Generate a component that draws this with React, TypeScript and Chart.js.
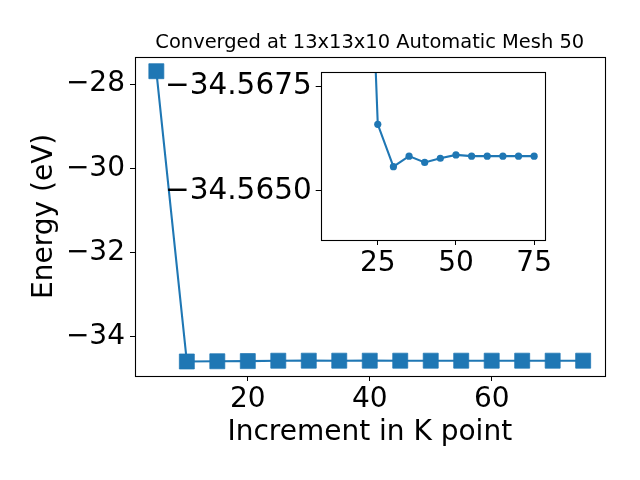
import React, { useEffect, useRef } from "react";
import { Chart, registerables } from "chart.js";

Chart.register(...registerables);

// ---- Data ----
const kPoints = [5, 10, 15, 20, 25, 30, 35, 40, 45, 50, 55, 60, 65, 70, 75];
const energies = [
  -27.695, -34.585, -34.58, -34.5763, -34.56659, -34.56558, -34.56583, -34.56568,
  -34.56578, -34.56586, -34.56583, -34.56583, -34.56583, -34.56583, -34.56583,
];
const insetK = kPoints.slice(1);
const insetEnergies = energies.slice(1);

const mainXTicks = [20, 40, 60];
const mainYTicks = [-34, -32, -30, -28];
const insetXTicks = [25, 50, 75];
const insetYTicks = [-34.5675, -34.565];
const insetYRange = [-34.56783, -34.56383];

const titleText = "Converged at 13x13x10 Automatic Mesh 50";
const xLabel = "Increment in K point";
const yLabel = "Energy (eV)";

const BLUE = "#1f77b4";
const FONT = "'DejaVu Sans', sans-serif";

const fmt = (v: number, d: number) => (v < 0 ? "\u2212" : "") + Math.abs(v).toFixed(d);

function padRange(vals: number[]) {
  const mn = Math.min(...vals);
  const mx = Math.max(...vals);
  const m = (mx - mn) * 0.05;
  return [mn - m, mx + m];
}

const framePlugin = {
  id: "frame",
  beforeDraw(chart: any, _a: any, opts: any) {
    if (opts && opts.fill) {
      const { left, top, width, height } = chart.chartArea;
      const ctx = chart.ctx;
      ctx.save();
      ctx.fillStyle = "#ffffff";
      ctx.fillRect(left, top, width, height);
      ctx.restore();
    }
  },
  afterDraw(chart: any) {
    const { left, top, width, height } = chart.chartArea;
    const ctx = chart.ctx;
    ctx.save();
    ctx.strokeStyle = "#000000";
    ctx.lineWidth = 1.1;
    ctx.strokeRect(Math.round(left) + 0.5, Math.round(top) + 0.5, Math.round(width), Math.round(height));
    ctx.restore();
  },
};

const titlePlugin = {
  id: "axTitle",
  afterDraw(chart: any, _a: any, opts: any) {
    if (!opts || !opts.text) return;
    const { left, right, top } = chart.chartArea;
    const ctx = chart.ctx;
    ctx.save();
    ctx.fillStyle = "#000";
    ctx.font = `19.44px ${FONT}`;
    ctx.textAlign = "center";
    ctx.textBaseline = "alphabetic";
    ctx.fillText(opts.text, (left + right) / 2, top - 8.5);
    ctx.restore();
  },
};

function fixedTicks(arr: number[]) {
  return (scale: any) => {
    scale.ticks = arr.map((v) => ({ value: v }));
  };
}

const tickGrid = {
  display: true,
  drawOnChartArea: false,
  drawTicks: true,
  tickLength: 5,
  color: "#000",
  lineWidth: 1,
};

export default function App() {
  const mainRef = useRef<HTMLCanvasElement>(null);
  const insetRef = useRef<HTMLCanvasElement>(null);

  useEffect(() => {
    document.body.style.margin = "0";
    const [xmin, xmax] = padRange(kPoints);
    const [ymin, ymax] = padRange(energies);
    const [ixmin, ixmax] = padRange(insetK);

    const main = new Chart(mainRef.current!, {
      type: "line",
      data: {
        datasets: [
          {
            data: kPoints.map((k, i) => ({ x: k, y: energies[i] })),
            borderColor: BLUE,
            backgroundColor: BLUE,
            borderWidth: 2.1,
            pointStyle: "rect",
            pointRadius: 10.6,
            pointBorderWidth: 1,
            pointBorderColor: "rgba(31,119,180,0.75)",
            pointBackgroundColor: BLUE,
            tension: 0,
          },
        ],
      },
      options: {
        animation: false,
        responsive: false,
        events: [],
        layout: { padding: { left: 0, top: 56.7, right: 35.5, bottom: 0 } },
        plugins: {
          legend: { display: false },
          tooltip: { enabled: false },
          frame: {},
          axTitle: { text: titleText },
        } as any,
        scales: {
          x: {
            type: "linear",
            min: xmin,
            max: xmax,
            afterBuildTicks: fixedTicks(mainXTicks),
            afterFit: (s: any) => {
              s.height = 104;
            },
            grid: tickGrid,
            border: { display: false },
            ticks: {
              color: "#000",
              font: { family: FONT, size: 28 },
              padding: 2,
              maxRotation: 0,
              callback: (v: any) => fmt(Number(v), 0),
            },
            title: {
              display: true,
              text: xLabel,
              color: "#000",
              font: { family: FONT, size: 28 },
              padding: { top: 0, bottom: 30 },
            },
          },
          y: {
            type: "linear",
            min: ymin,
            max: ymax,
            afterBuildTicks: fixedTicks(mainYTicks),
            afterFit: (s: any) => {
              s.width = 135;
            },
            grid: tickGrid,
            border: { display: false },
            ticks: {
              color: "#000",
              font: { family: FONT, size: 28 },
              padding: 5,
              callback: (v: any) => fmt(Number(v), 0),
            },
            title: {
              display: true,
              text: yLabel,
              color: "#000",
              font: { family: FONT, size: 28 },
              padding: { top: 28, bottom: 0 },
            },
          },
        },
      },
      plugins: [framePlugin, titlePlugin],
    });

    const inset = new Chart(insetRef.current!, {
      type: "line",
      data: {
        datasets: [
          {
            data: insetK.map((k, i) => ({ x: k, y: insetEnergies[i] })),
            borderColor: BLUE,
            backgroundColor: BLUE,
            borderWidth: 2.1,
            pointStyle: "circle",
            pointRadius: 3.6,
            pointBorderWidth: 0,
            pointBackgroundColor: BLUE,
            tension: 0,
          },
        ],
      },
      options: {
        animation: false,
        responsive: false,
        events: [],
        layout: { padding: { left: 0, top: 72.3, right: 95.7, bottom: 0 } },
        plugins: {
          legend: { display: false },
          tooltip: { enabled: false },
          frame: { fill: true },
        } as any,
        scales: {
          x: {
            type: "linear",
            min: ixmin,
            max: ixmax,
            afterBuildTicks: fixedTicks(insetXTicks),
            afterFit: (s: any) => {
              s.height = 240;
            },
            grid: tickGrid,
            border: { display: false },
            ticks: {
              color: "#000",
              font: { family: FONT, size: 28 },
              padding: 2,
              maxRotation: 0,
              callback: (v: any) => fmt(Number(v), 0),
            },
          },
          y: {
            type: "linear",
            reverse: true,
            min: insetYRange[0],
            max: insetYRange[1],
            afterBuildTicks: fixedTicks(insetYTicks),
            afterFit: (s: any) => {
              s.width = 320.7;
            },
            grid: tickGrid,
            border: { display: false },
            ticks: {
              color: "#000",
              font: { family: FONT, size: 29.5 },
              padding: 4,
              callback: (v: any) => fmt(Number(v), 4),
            },
          },
        },
      },
      plugins: [framePlugin],
    });

    return () => {
      main.destroy();
      inset.destroy();
    };
  }, []);

  return (
    <div style={{ position: "fixed", left: 0, top: 0, width: 640, height: 480, background: "#fff" }}>
      <canvas ref={mainRef} width={640} height={480} style={{ position: "absolute", left: 0, top: 0, width: 640, height: 480 }} />
      <canvas
        ref={insetRef}
        width={640}
        height={480}
        style={{ position: "absolute", left: 0, top: 0, width: 640, height: 480, pointerEvents: "none" }}
      />
    </div>
  );
}
